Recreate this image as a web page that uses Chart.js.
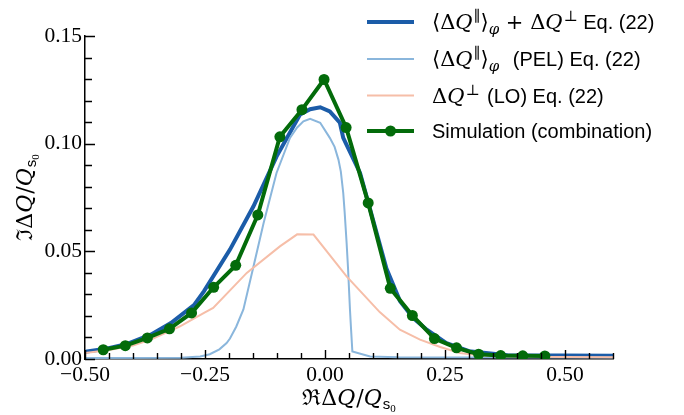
<!DOCTYPE html>
<html><head><meta charset="utf-8">
<script src="https://cdn.jsdelivr.net/npm/chart.js@4"></script>
<style>html,body{margin:0;padding:0;background:#fff;overflow:hidden}canvas{display:block}</style>
</head><body>
<canvas id="c" width="684" height="415"></canvas>
<script>
// ---- data ----
const xTickValues = [-0.5, -0.25, 0, 0.25, 0.5];
const yTickValues = [0, 0.05, 0.10, 0.15];

const totalX = [-0.50,-0.46,-0.412,-0.363,-0.321,-0.273,-0.252,-0.198,-0.149,-0.101,-0.052,-0.031,-0.010,0.010,0.031,0.038,0.073,0.100,0.128,0.156,0.184,0.212,0.253,0.300,0.380,0.600];
const totalY = [0.0033,0.0046,0.0070,0.0113,0.0167,0.0250,0.0315,0.0508,0.0709,0.0940,0.1135,0.1160,0.1169,0.1150,0.1097,0.1027,0.0864,0.0647,0.0420,0.0270,0.0190,0.0136,0.0074,0.0036,0.0017,0.0015];

const pelX = [-0.50,-0.30,-0.26,-0.24,-0.22,-0.205,-0.198,-0.185,-0.170,-0.149,-0.128,-0.101,-0.073,-0.058,-0.045,-0.031,-0.010,0.010,0.020,0.028,0.033,0.038,0.041,0.045,0.048,0.052,0.054,0.057,0.094,0.150,0.600];
const pelY = [0.0005,0.0006,0.0012,0.0022,0.0045,0.0074,0.0095,0.0150,0.0230,0.0430,0.0630,0.0864,0.1027,0.1075,0.1104,0.1115,0.1097,0.1027,0.0985,0.0926,0.0870,0.0771,0.0680,0.0540,0.0420,0.0230,0.0150,0.0035,0.0012,0.0008,0.0007];

const loX = [-0.50,-0.45,-0.40,-0.363,-0.302,-0.252,-0.233,-0.163,-0.094,-0.058,-0.024,0.045,0.114,0.156,0.198,0.240,0.281,0.330,0.400,0.600];
const loY = [0.0028,0.0042,0.0062,0.0090,0.0152,0.0214,0.0237,0.0400,0.0523,0.0579,0.0578,0.0384,0.0218,0.0136,0.0090,0.0056,0.0028,0.0015,0.0010,0.0008];

const simX = [-0.462,-0.416,-0.370,-0.324,-0.278,-0.232,-0.186,-0.140,-0.094,-0.048,-0.002,0.044,0.090,0.136,0.182,0.228,0.274,0.320,0.366,0.412,0.458];
const simY = [0.0043,0.0062,0.0098,0.0140,0.0214,0.0333,0.0435,0.0669,0.1032,0.1158,0.1298,0.1075,0.0725,0.0328,0.0202,0.0095,0.0052,0.0022,0.0016,0.0015,0.0014];

const seriesNames = ['total','PEL','LO','Simulation (combination)'];

// ---- styles ----
const C_TOTAL = '#1b5ca8', C_PEL = '#8ab6dc', C_LO = '#f6bea8', C_SIM = '#036b0a';
const SERIF = '"Liberation Serif", "DejaVu Serif", serif';
const MATH = '"DejaVu Serif", "Liberation Serif", serif';
const SANS = '"Liberation Sans", "DejaVu Sans", sans-serif';

const pts = (xs, ys) => xs.map((x, i) => ({x, y: ys[i]}));
const fmt = v => (v < 0 ? '\u2212' : '') + Math.abs(v).toFixed(2);

// rich text: segments {t, fam, size, it, dy, kern}
function drawRich(ctx, segs, x, y, measureOnly) {
  let cx = x;
  for (const s of segs) {
    ctx.font = (s.it ? 'italic ' : '') + s.size + 'px ' + s.fam;
    if (!measureOnly) ctx.fillText(s.t, cx, y + (s.dy || 0));
    cx += ctx.measureText(s.t).width + (s.kern || 0);
  }
  return cx - x;
}
const M = 21;   // legend math size
const S = 15;   // legend sup/sub size
const T = 20;   // legend text size
const mathQ = (sz) => ({t:'Q', fam:MATH, size:sz, it:true, kern:1});
const legendRows = [
  [{t:'\u27E8\u0394', fam:MATH, size:M}, mathQ(M), {t:'\u2225', fam:MATH, size:S, dy:-8}, {t:'\u27E9', fam:MATH, size:M},
   {t:'\u03C6', fam:MATH, size:S, it:true, dy:5}, {t:' + \u0394', fam:MATH, size:M}, mathQ(M), {t:'\u22A5', fam:MATH, size:S, dy:-8},
   {t:' Eq. (22)', fam:SANS, size:T}],
  [{t:'\u27E8\u0394', fam:MATH, size:M}, mathQ(M), {t:'\u2225', fam:MATH, size:S, dy:-8}, {t:'\u27E9', fam:MATH, size:M},
   {t:'\u03C6', fam:MATH, size:S, it:true, dy:5, kern:8}, {t:' (PEL) Eq. (22)', fam:SANS, size:T}],
  [{t:'\u0394', fam:MATH, size:M}, mathQ(M), {t:'\u22A5', fam:MATH, size:S, dy:-8, kern:2}, {t:' (LO) Eq. (22)', fam:SANS, size:T}],
  [{t:'Simulation (combination)', fam:SANS, size:T}]
];
const legendStyle = [
  {c:C_TOTAL, w:4, dot:false}, {c:C_PEL, w:2, dot:false}, {c:C_LO, w:2, dot:false}, {c:C_SIM, w:4, dot:true}
];

function axisTitleSegs(letter) {
  return [{t:letter + '\u0394', fam:MATH, size:22}, mathQ(22), {t:'/', fam:MATH, size:22}, mathQ(22),
          {t:'s', fam:SANS, size:15, dy:4}, {t:'0', fam:SERIF, size:11, dy:7}];
}

const decor = {
  id:'decor',
  afterDraw(chart) {
    const {ctx, chartArea:a, scales:{x, y}} = chart;
    ctx.save();
    // inward ticks
    ctx.strokeStyle = '#000'; ctx.lineWidth = 1.4;
    ctx.beginPath();
    for (let k = 0; k <= 22; k++) {
      const v = -0.5 + k * 0.05;
      const px = Math.round(x.getPixelForValue(v)) + 0.5;
      const major = k % 5 === 0;
      ctx.moveTo(px, a.bottom); ctx.lineTo(px, a.bottom - (major ? 9 : 6));
    }
    for (let k = 0; k <= 15; k++) {
      const v = k * 0.01;
      const py = Math.round(y.getPixelForValue(v)) + 0.5;
      const major = k % 5 === 0;
      ctx.moveTo(a.left, py); ctx.lineTo(a.left + (major ? 10 : 7), py);
    }
    ctx.stroke();
    // axis titles
    ctx.fillStyle = '#000'; ctx.textBaseline = 'alphabetic'; ctx.textAlign = 'left';
    let segs = axisTitleSegs('\u211C');
    let w = drawRich(ctx, segs, 0, 0, true);
    drawRich(ctx, segs, (a.left + a.right) / 2 - w / 2, 405);
    segs = axisTitleSegs('\u2111');
    w = drawRich(ctx, segs, 0, 0, true);
    ctx.save();
    ctx.translate(32, (a.top + a.bottom) / 2);
    ctx.rotate(-Math.PI / 2);
    drawRich(ctx, segs, -w / 2, 0);
    ctx.restore();
    // legend
    const rowY = [22, 59, 95.5, 131];
    legendRows.forEach((segs, i) => {
      const st = legendStyle[i];
      ctx.strokeStyle = st.c; ctx.lineWidth = st.w; ctx.lineCap = 'butt';
      ctx.beginPath(); ctx.moveTo(367, rowY[i]); ctx.lineTo(414, rowY[i]); ctx.stroke();
      if (st.dot) { ctx.fillStyle = st.c; ctx.beginPath(); ctx.arc(390.5, rowY[i], 5.5, 0, 2 * Math.PI); ctx.fill(); }
      ctx.fillStyle = '#000';
      drawRich(ctx, segs, 432, rowY[i] + 7);
    });
    ctx.restore();
  }
};

new Chart(document.getElementById('c'), {
  type: 'line',
  data: {
    datasets: [
      {label: seriesNames[3], data: pts(simX, simY), borderColor: C_SIM, backgroundColor: C_SIM, borderWidth: 4,
       pointRadius: 5.5, pointHoverRadius: 5.5, pointBorderWidth: 0, tension: 0, order: 0},
      {label: seriesNames[2], data: pts(loX, loY), borderColor: C_LO, borderWidth: 2, pointRadius: 0, tension: 0, order: 1},
      {label: seriesNames[1], data: pts(pelX, pelY), borderColor: C_PEL, borderWidth: 2, pointRadius: 0, tension: 0, order: 2},
      {label: seriesNames[0], data: pts(totalX, totalY), borderColor: C_TOTAL, borderWidth: 4, pointRadius: 0, tension: 0, order: 3}
    ]
  },
  options: {
    responsive: false, animation: false, devicePixelRatio: 1,
    layout: {padding: {left: 0, right: 71, top: 36, bottom: 0}},
    plugins: {legend: {display: false}, tooltip: {enabled: false}},
    scales: {
      x: {
        type: 'linear', min: -0.5, max: 0.6,
        afterBuildTicks: s => { s.ticks = xTickValues.map(v => ({value: v})); },
        afterFit: s => { s.height = 56; },
        grid: {display: false, drawTicks: false},
        border: {display: true, color: '#000', width: 1.5},
        ticks: {callback: v => fmt(v), color: '#000', padding: 3, maxRotation: 0, autoSkip: false,
                font: {family: SERIF, size: 21.5}}
      },
      y: {
        type: 'linear', min: 0, max: 0.15,
        afterBuildTicks: s => { s.ticks = yTickValues.map(v => ({value: v})); },
        afterFit: s => { s.width = 85; },
        grid: {display: false, drawTicks: false},
        border: {display: true, color: '#000', width: 1.5},
        ticks: {callback: v => fmt(v), color: '#000', padding: 3, font: {family: SERIF, size: 21.5}}
      }
    }
  },
  plugins: [decor]
});
</script>
</body></html>
